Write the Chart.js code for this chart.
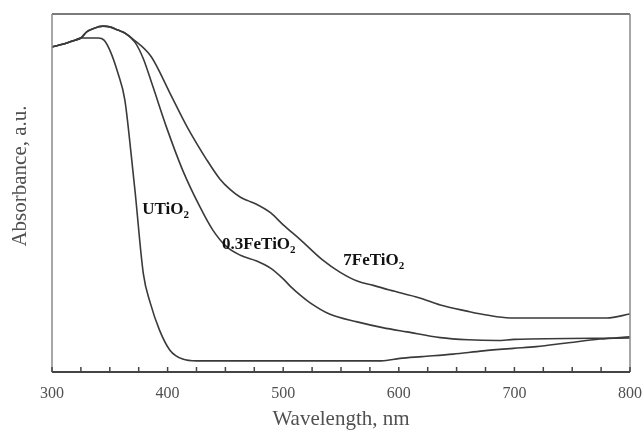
<!DOCTYPE html>
<html>
<head>
<meta charset="utf-8">
<script src="https://cdn.jsdelivr.net/npm/chart.js@4"></script>
<style>
  html, body { margin: 0; padding: 0; background: #fff; }
  #wrap { width: 644px; height: 432px; }
</style>
</head>
<body>
<div id="wrap"><canvas id="absorb"></canvas></div>
<script>
// spectra (wavelength nm, absorbance arbitrary units 0-100)
const uWave = [300, 310, 320, 325, 340, 345, 350, 357, 363, 369, 372, 379, 385, 393, 402, 413, 425, 585, 601, 620, 647, 673, 699, 719, 745, 774, 800];
const uAbs = [90.8, 91.6, 92.7, 93.3, 93.3, 92.7, 89.9, 83.5, 76.0, 59.2, 50.0, 27.5, 19.3, 11.7, 6.1, 3.6, 3.1, 3.1, 3.8, 4.3, 5.0, 5.9, 6.6, 7.1, 8.1, 9.2, 9.8];

const lowWave = [300, 310, 320, 325, 330, 335, 344, 350, 357, 363, 372, 379, 387, 399, 413, 428, 439, 451, 463, 477, 489, 500, 506, 515, 523, 540, 564, 586, 607, 636, 660, 685, 700, 800];
const lowAbs = [90.8, 91.6, 92.7, 93.3, 95.0, 95.8, 96.6, 96.4, 95.5, 94.7, 92.0, 87.5, 80.0, 68.4, 56.4, 46.1, 39.7, 35.0, 32.6, 31.0, 29.0, 26.0, 24.0, 21.4, 19.4, 16.2, 14.0, 12.4, 11.2, 9.6, 9.0, 8.8, 9.1, 9.5];

const highWave = [300, 310, 320, 325, 330, 335, 344, 350, 357, 363, 370, 386, 402, 417, 434, 445, 454, 463, 470, 476, 489, 500, 515, 534, 549, 564, 578, 592, 618, 636, 659, 676, 696, 780, 800];
const highAbs = [90.8, 91.6, 92.7, 93.3, 95.0, 95.8, 96.6, 96.4, 95.5, 94.7, 93.0, 88.0, 77.9, 68.4, 59.2, 54.0, 51.0, 48.8, 47.8, 47.0, 44.5, 41.1, 36.9, 31.3, 27.9, 25.4, 24.2, 22.9, 20.7, 18.7, 17.0, 15.9, 15.1, 15.1, 16.2];

// curve labels: name (before subscript), anchor wavelength, anchor absorbance
const tagNames = ['UTiO', '0.3FeTiO', '7FeTiO'];
const tagWave = [378, 447, 552];
const tagAbs = [45.3, 35.5, 31.1];

const serif = "'Liberation Serif', 'DejaVu Serif', serif";

function pts(xs, ys) {
    return xs.map((x, i) => ({ x: x, y: ys[i] }));
}

function line(label, xs, ys) {
    return {
        label: label,
        data: pts(xs, ys),
        borderColor: '#3a3a3a',
        borderWidth: 1.6,
        pointRadius: 0,
        fill: false,
        cubicInterpolationMode: 'monotone'
    };
}

const extras = {
    id: 'extras',
    afterDraw(chart) {
        const ctx = chart.ctx;
        const a = chart.chartArea;
        const xs = chart.scales.x;
        const ys = chart.scales.y;
        ctx.save();

        // frame
        ctx.lineWidth = 2;
        ctx.strokeStyle = '#7a7a7a';
        ctx.beginPath(); ctx.moveTo(a.left, a.top); ctx.lineTo(a.right, a.top); ctx.stroke();
        ctx.lineWidth = 1.5;
        ctx.strokeStyle = '#8a8a8a';
        ctx.beginPath(); ctx.moveTo(a.left, a.top); ctx.lineTo(a.left, a.bottom); ctx.stroke();
        ctx.beginPath(); ctx.moveTo(a.right, a.top); ctx.lineTo(a.right, a.bottom); ctx.stroke();
        ctx.lineWidth = 2;
        ctx.strokeStyle = '#444';
        ctx.beginPath(); ctx.moveTo(a.left, a.bottom); ctx.lineTo(a.right, a.bottom); ctx.stroke();

        // inward ticks
        ctx.lineWidth = 1.5;
        xs.ticks.forEach(t => {
            const px = xs.getPixelForValue(t.value);
            ctx.beginPath();
            ctx.moveTo(px, a.bottom);
            ctx.lineTo(px, a.bottom - 5);
            ctx.stroke();
        });

        // y title
        ctx.fillStyle = '#505050';
        ctx.font = '21px ' + serif;
        ctx.textAlign = 'center';
        ctx.textBaseline = 'middle';
        ctx.translate(20, 176);
        ctx.rotate(-Math.PI / 2);
        ctx.fillText('Absorbance, a.u.', 0, 0);
        ctx.setTransform(1, 0, 0, 1, 0, 0);

        // curve labels with subscript 2
        ctx.fillStyle = '#111';
        ctx.textAlign = 'left';
        tagNames.forEach((name, i) => {
            const px = xs.getPixelForValue(tagWave[i]);
            const py = ys.getPixelForValue(tagAbs[i]);
            ctx.font = 'bold 17px ' + serif;
            ctx.textBaseline = 'middle';
            ctx.fillText(name, px, py);
            const w = ctx.measureText(name).width;
            ctx.font = 'bold 11px ' + serif;
            ctx.fillText('2', px + w, py + 5);
        });
        ctx.restore();
    }
};

new Chart(document.getElementById('absorb'), {
    type: 'line',
    data: {
        datasets: [
            line('UTiO2', uWave, uAbs),
            line('0.3FeTiO2', lowWave, lowAbs),
            line('7FeTiO2', highWave, highAbs)
        ]
    },
    options: {
        responsive: true,
        maintainAspectRatio: false,
        animation: false,
        layout: { padding: { top: 14, right: 0, left: 0, bottom: 0 } },
        plugins: {
            legend: { display: false },
            tooltip: { enabled: false }
        },
        scales: {
            x: {
                type: 'linear',
                min: 300,
                max: 800,
                afterFit: s => {
                    s.height = 60;
                    s.paddingRight = 14;
                    s.paddingLeft = 0;
                },
                border: { display: false },
                grid: { display: false, drawTicks: false },
                ticks: {
                    stepSize: 25,
                    autoSkip: false,
                    maxRotation: 0,
                    padding: 12,
                    color: '#505050',
                    font: { family: serif, size: 16 },
                    callback: v => (v % 100 === 0 ? v : '')
                },
                title: {
                    display: true,
                    text: 'Wavelength, nm',
                    color: '#505050',
                    padding: { top: 0, bottom: 0 },
                    font: { family: serif, size: 21 }
                }
            },
            y: {
                min: 0,
                max: 100,
                afterFit: s => { s.width = 52; },
                border: { display: false },
                grid: { display: false, drawTicks: false },
                ticks: { display: false }
            }
        }
    },
    plugins: [extras]
});
</script>
</body>
</html>
